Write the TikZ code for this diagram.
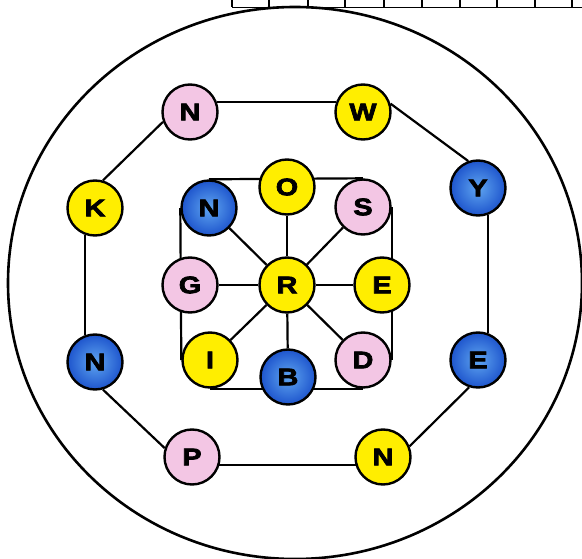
\documentclass[tikz,border=0pt]{standalone}
\usepackage{fontspec}
\setmainfont{Liberation Sans}
\newfontfamily\heavy{Liberation Sans}[BoldFeatures={FakeBold=3, FakeStretch=1.2}]
\usetikzlibrary{backgrounds}
\definecolor{yellowc}{RGB}{255,238,0}
\definecolor{pinkc}{RGB}{243,198,228}
\definecolor{bluein}{RGB}{95,165,240}
\definecolor{blueout}{RGB}{30,85,205}
\begin{document}
\begin{tikzpicture}[x=1pt,y=-1pt,
  ball/.style={circle, draw=black, line width=2.4pt, minimum size=55pt, inner sep=0pt,
    font=\heavy\bfseries\fontsize{24}{24}\selectfont, text=black},
  yel/.style={ball, fill=yellowc},
  pnk/.style={ball, fill=pinkc},
  blu/.style={ball, inner color=bluein, outer color=blueout},
  link/.style={line width=2.2pt, draw=black},
  rim/.style={line width=2.6pt, draw=black},
  grid/.style={line width=1.2pt, draw=black}
]
\useasboundingbox (0,0) rectangle (582,559);

% outer ring nodes
\node[pnk] (n1) at (190,112) {N};
\node[yel] (w)  at (363,112) {W};
\node[blu] (y)  at (478,188) {Y};
\node[blu] (e1) at (478,360) {E};
\node[yel] (n2) at (383,457) {N};
\node[pnk] (p)  at (192,457) {P};
\node[blu] (n3) at (95,362) {N};
\node[yel] (k)  at (95,208) {K};

% inner nodes
\node[blu] (ni) at (209,208) {N};
\node[yel] (o)  at (287,187) {O};
\node[pnk] (s)  at (363,207) {S};
\node[pnk] (g)  at (190,285) {G};
\node[yel] (r)  at (287,285) {R};
\node[yel] (e2) at (382,285) {E};
\node[yel] (i)  at (210,360) {I};
\node[blu] (b)  at (288,377) {B};
\node[pnk] (d)  at (363,360) {D};

\begin{scope}[on background layer]
  \draw[rim] (295,283) ellipse [x radius=287pt, y radius=276pt];
  \draw[grid] (232,7.5) -- (582,7.5);
  \foreach \xx in {232,269,308,345,384,422,460,497,535,572}
    \draw[grid] (\xx,0) -- (\xx,7.5);
  % outer octagon
  \draw[link] (n1.21) -- (w.159);
  \draw[link] (w.17) -- (y.110);
  \draw[link] (y.-70) -- (e1.70);
  \draw[link] (e1.-108) -- (n2.22);
  \draw[link] (n2.-163) -- (p.-17);
  \draw[link] (p.162) -- (n3.-74);
  \draw[link] (n3.110) -- (k.-110);
  \draw[link] (k.74) -- (n1.200);
  % inner square
  \draw[link] (ni.north) -- (s.north);
  \draw[link] (s.east) -- (d.east);
  \draw[link] (i.south) -- (d.south);
  \draw[link] (ni.west) -- (i.west);
  % spokes
  \foreach \t in {ni,o,s,g,e2,i,b,d}
    \draw[link] (r) -- (\t);
\end{scope}
\end{tikzpicture}
\end{document}
